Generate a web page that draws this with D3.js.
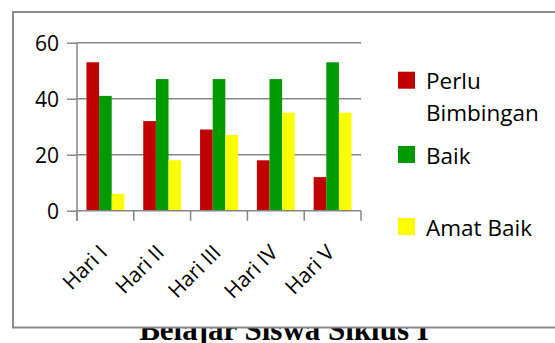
<!DOCTYPE html>
<html>
<head>
<meta charset="utf-8">
<script src="https://cdn.jsdelivr.net/npm/d3@7"></script>
<style>
  body { margin: 0; background: #fff; }
  svg { display: block; }
</style>
</head>
<body>
<div id="chart-area"></div>
<script>
// data
var categories = ["Hari I", "Hari II", "Hari III", "Hari IV", "Hari V"];
var seriesNames = ["Perlu Bimbingan", "Baik", "Amat Baik"];
var perluBimbingan = [53, 32, 29, 18, 12];
var baik = [41, 47, 47, 47, 53];
var amatBaik = [6, 18, 27, 35, 35];
var yTicks = [0, 20, 40, 60];
var caption = "Belajar Siswa Siklus I";

var colors = ["#c00000", "#009900", "#ffff00"];
var values = [perluBimbingan, baik, amatBaik];

var width = 555, height = 343;
var plot = { left: 77, right: 361, top: 42.7, bottom: 210.7 };
var font = "'Open Sans', sans-serif";

var svg = d3.select("#chart-area")
  .append("svg")
  .attr("width", width)
  .attr("height", height)
  .style("background", "#fff");

// caption behind the chart frame (only its lower part shows)
svg.append("text")
  .attr("x", 284)
  .attr("y", 340)
  .attr("text-anchor", "middle")
  .attr("font-family", "'Liberation Serif', 'Times New Roman', serif")
  .attr("font-weight", "bold")
  .attr("font-size", "31px")
  .style("fill", "#000")
  .text(caption);

// chart frame
svg.append("rect")
  .attr("x", 13)
  .attr("y", 12)
  .attr("width", 560)
  .attr("height", 315.5)
  .attr("fill", "#fff")
  .attr("stroke", "#8c8c8c")
  .attr("stroke-width", 2);

var x = d3.scaleBand()
  .domain(categories)
  .range([plot.left, plot.right])
  .padding(0);

var bw = x.bandwidth();
var x1 = d3.scaleBand()
  .domain(seriesNames)
  .range([bw / 6, bw * 5 / 6])
  .padding(0);

var y = d3.scaleLinear()
  .domain([0, 60])
  .range([plot.bottom, plot.top]);

var g = svg.append("g");

// gridlines
g.selectAll(".grid")
  .data(yTicks.filter(d => d > 0))
  .enter().append("line")
  .attr("class", "grid")
  .attr("x1", plot.left)
  .attr("x2", plot.right)
  .attr("y1", d => y(d))
  .attr("y2", d => y(d))
  .attr("stroke", "#868686")
  .attr("stroke-width", 1.5);

// bars
var rows = [];
categories.forEach((c, i) => {
  seriesNames.forEach((s, j) => {
    rows.push({ cat: c, series: s, value: values[j][i], color: colors[j] });
  });
});

g.selectAll("rect.bar")
  .data(rows)
  .enter().append("rect")
  .attr("class", "bar")
  .attr("x", d => x(d.cat) + x1(d.series))
  .attr("y", d => y(d.value))
  .attr("width", x1.bandwidth())
  .attr("height", d => y(0) - y(d.value))
  .attr("fill", d => d.color);

// y axis
var yAxisG = g.append("g")
  .attr("transform", "translate(" + plot.left + ",0)")
  .call(d3.axisLeft(y).tickValues(yTicks).tickSize(10).tickSizeOuter(0).tickPadding(8));
yAxisG.select(".domain").remove();
yAxisG.selectAll(".tick line").attr("stroke", "#868686").attr("stroke-width", 1.5);
yAxisG.selectAll("text")
  .attr("font-family", font)
  .attr("font-size", "21px")
  .attr("dy", "0.36em")
  .style("fill", "#000");

g.append("line")
  .attr("x1", plot.left).attr("x2", plot.left)
  .attr("y1", y(60)).attr("y2", y(0) + 10)
  .attr("stroke", "#868686").attr("stroke-width", 1.5);

// x axis
g.append("line")
  .attr("x1", plot.left).attr("x2", plot.right)
  .attr("y1", y(0)).attr("y2", y(0))
  .attr("stroke", "#868686").attr("stroke-width", 1.5);

var bounds = categories.map(c => x(c)).concat([x.range()[1]]);
g.selectAll(".xtick")
  .data(bounds)
  .enter().append("line")
  .attr("class", "xtick")
  .attr("x1", d => d).attr("x2", d => d)
  .attr("y1", y(0)).attr("y2", y(0) + 10)
  .attr("stroke", "#868686").attr("stroke-width", 1.5);

g.selectAll(".xlabel")
  .data(categories)
  .enter().append("text")
  .attr("class", "xlabel")
  .attr("transform", d => "translate(" + (x(d) + bw / 2 - 2) + "," + (y(0) + 38) + ") rotate(-45)")
  .attr("text-anchor", "end")
  .attr("dy", "0.35em")
  .attr("font-family", font)
  .attr("font-size", "21px")
  .style("fill", "#000")
  .text(d => d);

// legend
var legendItems = [
  { lines: ["Perlu", "Bimbingan"], color: colors[0], y: 71.7 },
  { lines: ["Baik"], color: colors[1], y: 146 },
  { lines: ["Amat Baik"], color: colors[2], y: 218 }
];

var lg = svg.append("g");
legendItems.forEach(item => {
  lg.append("rect")
    .attr("x", 398)
    .attr("y", item.y)
    .attr("width", 17)
    .attr("height", 17)
    .attr("fill", item.color);
  var t = lg.append("text")
    .attr("x", 426)
    .attr("y", item.y + 17.5)
    .attr("font-family", font)
    .attr("font-size", "22.5px")
    .style("fill", "#000");
  item.lines.forEach((l, i) => {
    t.append("tspan")
      .attr("x", 426)
      .attr("dy", i === 0 ? 0 : 32)
      .text(l);
  });
});
</script>
</body>
</html>
